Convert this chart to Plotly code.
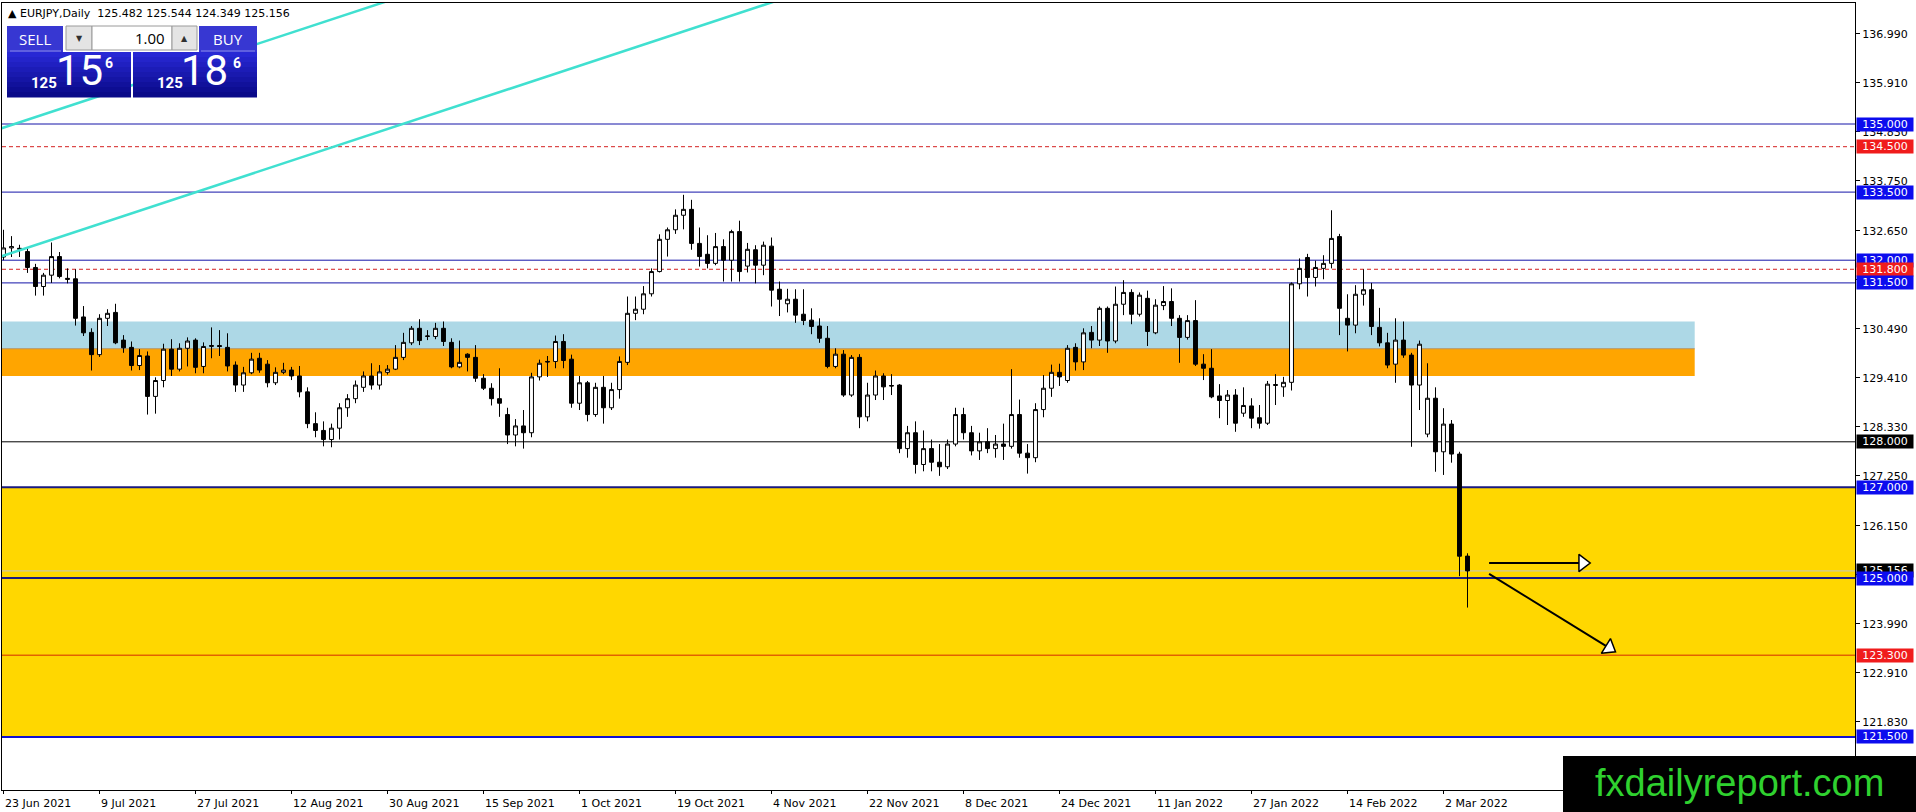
import plotly.graph_objects as go
import pandas as pd

# EURJPY daily candles, 23 Jun 2021 .. 7 Mar 2022
opens = [132.07, 132.27, 132.24, 132.19, 131.84, 131.42, 131.67, 132.08, 131.60, 131.59,
         130.75, 130.41, 129.92, 130.72, 130.85, 130.24, 130.08, 129.68, 129.89, 129.00,
         129.35, 130.04, 129.60, 130.06, 130.24, 129.66, 130.10, 130.12, 130.08, 129.69,
         129.25, 129.52, 129.84, 129.71, 129.30, 129.53, 129.58, 129.45, 129.10, 128.40,
         128.25, 128.05, 128.30, 128.75, 128.95, 129.20, 129.45, 129.25, 129.53, 129.60,
         129.86, 130.18, 130.50, 130.32, 130.32, 130.50, 130.19, 129.65, 129.93, 129.86,
         129.40, 129.18, 128.95, 128.60, 128.15, 128.35, 128.20, 129.43, 129.77, 129.77,
         130.21, 129.82, 128.85, 129.30, 128.60, 129.20, 128.75, 129.15, 129.75, 130.83,
         130.92, 131.26, 131.75, 132.46, 132.67, 132.99, 133.12, 132.37, 132.13, 131.93,
         132.30, 132.00, 132.63, 131.87, 132.23, 131.89, 132.31, 131.36, 131.04, 131.14,
         130.81, 130.68, 130.55, 130.28, 129.66, 129.93, 129.03, 129.86, 128.55, 129.03,
         129.45, 129.24, 129.25, 127.85, 128.20, 127.50, 127.85, 127.55, 127.45, 127.95,
         128.60, 128.20, 127.80, 128.00, 127.85, 127.95, 127.90, 128.60, 127.75, 127.65,
         128.71, 129.18, 129.53, 129.35, 130.08, 129.76, 130.41, 130.24, 130.94, 130.22,
         131.03, 131.29, 130.81, 131.16, 130.40, 131.00, 131.09, 130.72, 130.30, 130.67,
         129.71, 129.62, 129.01, 128.91, 129.03, 128.63, 128.79, 128.53, 128.41, 129.24,
         129.21, 129.31, 131.48, 132.06, 131.62, 131.82, 131.93, 132.52, 130.72, 130.57,
         131.25, 131.35, 130.52, 130.18, 129.71, 130.24, 129.91, 129.25, 128.17, 128.96,
         127.78, 128.39, 127.73, 125.482]
highs = [132.67, 132.53, 132.34, 132.29, 131.92, 131.72, 132.39, 132.18, 131.82, 131.80,
         130.99, 130.50, 130.81, 130.92, 131.04, 130.35, 130.21, 130.04, 129.99, 129.42,
         130.16, 130.26, 130.17, 130.30, 130.28, 130.19, 130.52, 130.46, 130.39, 129.77,
         129.65, 129.96, 129.96, 129.80, 129.64, 129.74, 129.65, 129.67, 129.20, 128.65,
         128.45, 128.40, 128.85, 129.05, 129.35, 129.55, 129.73, 129.69, 129.69, 130.13,
         130.40, 130.55, 130.70, 130.46, 130.62, 130.65, 130.28, 130.23, 129.95, 130.13,
         129.49, 129.29, 129.62, 128.75, 128.50, 128.70, 129.52, 129.81, 129.89, 130.34,
         130.37, 129.92, 129.45, 129.34, 129.30, 129.45, 129.30, 129.88, 131.20, 131.20,
         131.43, 131.82, 132.57, 132.72, 133.12, 133.44, 133.33, 132.72, 132.55, 132.60,
         132.46, 132.67, 132.87, 132.38, 132.33, 132.41, 132.50, 131.53, 131.37, 131.36,
         131.36, 130.94, 130.72, 130.55, 130.06, 130.02, 129.91, 129.93, 129.30, 129.57,
         129.51, 129.49, 129.27, 128.35, 128.45, 128.25, 128.05, 127.95, 128.05, 128.75,
         128.75, 128.35, 128.20, 128.30, 128.15, 128.40, 129.60, 128.93, 127.95, 128.85,
         129.47, 129.70, 129.72, 130.13, 130.17, 130.50, 130.55, 130.98, 130.98, 131.42,
         131.56, 131.36, 131.29, 131.33, 131.14, 131.43, 131.38, 130.79, 130.79, 131.12,
         129.93, 130.04, 129.27, 129.14, 129.16, 129.20, 128.96, 128.81, 129.34, 129.49,
         129.43, 131.51, 132.04, 132.14, 131.99, 132.11, 133.10, 132.58, 131.25, 131.45,
         131.80, 131.50, 130.95, 130.40, 130.72, 130.65, 129.96, 130.23, 129.73, 129.20,
         128.74, 128.48, 127.78, 125.544]
lows = [132.00, 132.07, 132.07, 131.72, 131.22, 131.22, 131.50, 131.60, 131.49, 130.56,
        130.33, 129.57, 129.87, 130.55, 130.15, 129.96, 129.57, 129.58, 128.60, 128.62,
        129.20, 129.45, 129.55, 129.66, 129.51, 129.51, 129.84, 129.89, 129.55, 129.10,
        129.10, 129.49, 129.52, 129.20, 129.25, 129.49, 129.36, 128.98, 128.30, 128.10,
        127.90, 127.88, 128.05, 128.55, 128.85, 129.10, 129.15, 129.15, 129.48, 129.58,
        129.80, 130.13, 130.13, 130.24, 130.26, 130.11, 129.62, 129.62, 129.55, 129.32,
        129.14, 128.80, 128.55, 127.95, 127.90, 127.85, 128.10, 129.35, 129.43, 129.62,
        129.62, 128.75, 128.70, 128.45, 128.55, 128.40, 128.70, 128.95, 129.69, 130.68,
        130.81, 131.20, 131.73, 132.08, 132.58, 132.68, 132.23, 131.86, 131.82, 131.89,
        131.53, 131.53, 131.53, 131.73, 131.49, 131.67, 130.98, 130.77, 130.85, 130.62,
        130.57, 130.37, 130.18, 129.62, 129.62, 128.99, 128.99, 128.30, 128.45, 128.92,
        128.92, 129.03, 127.75, 127.65, 127.30, 127.35, 127.35, 127.25, 127.40, 127.90,
        128.05, 127.70, 127.60, 127.75, 127.65, 127.60, 127.85, 127.65, 127.30, 127.55,
        128.54, 128.99, 129.23, 129.30, 129.57, 129.58, 130.06, 130.11, 129.96, 130.17,
        130.79, 130.59, 130.76, 130.11, 130.37, 130.90, 130.55, 129.74, 130.25, 129.67,
        129.36, 128.96, 128.52, 128.37, 128.22, 128.55, 128.30, 128.29, 128.37, 128.81,
        128.99, 129.13, 131.36, 131.20, 131.42, 131.58, 131.82, 130.35, 129.99, 130.39,
        131.00, 130.35, 130.10, 129.62, 129.30, 129.85, 127.89, 128.70, 128.10, 127.34,
        127.27, 127.54, 125.04, 124.349]
closes = [132.27, 132.30, 132.26, 131.84, 131.42, 131.67, 132.08, 131.64, 131.58, 130.72,
          130.40, 129.92, 130.72, 130.83, 130.18, 130.07, 129.68, 129.90, 129.00, 129.35,
          130.04, 129.60, 130.06, 130.22, 129.64, 130.10, 130.12, 130.10, 129.67, 129.25,
          129.52, 129.82, 129.58, 129.30, 129.53, 129.58, 129.45, 129.10, 128.40, 128.25,
          128.05, 128.30, 128.75, 128.95, 129.25, 129.45, 129.25, 129.54, 129.60, 129.86,
          130.19, 130.50, 130.23, 130.33, 130.50, 130.21, 129.65, 129.75, 129.86, 129.40,
          129.18, 128.95, 128.85, 128.15, 128.35, 128.20, 129.43, 129.73, 129.76, 130.21,
          129.79, 128.85, 129.30, 128.60, 129.20, 128.75, 129.15, 129.77, 130.83, 130.92,
          131.26, 131.75, 132.46, 132.67, 132.99, 133.12, 132.37, 132.08, 131.93, 132.30,
          132.00, 132.63, 131.75, 132.24, 131.89, 132.33, 131.34, 131.14, 131.14, 130.79,
          130.67, 130.54, 130.28, 129.66, 129.93, 129.03, 129.86, 128.55, 129.03, 129.45,
          129.21, 129.23, 127.85, 128.20, 127.50, 127.85, 127.55, 127.45, 127.95, 128.60,
          128.20, 127.80, 128.00, 127.85, 127.95, 127.90, 128.60, 127.75, 127.65, 128.71,
          129.18, 129.53, 129.43, 130.06, 129.76, 130.40, 130.24, 130.94, 130.22, 131.03,
          131.29, 130.81, 131.23, 130.43, 131.01, 131.09, 130.72, 130.30, 130.67, 129.71,
          129.62, 128.99, 128.91, 129.03, 128.41, 128.80, 128.52, 128.41, 129.27, 129.26,
          129.31, 131.48, 131.82, 131.62, 131.84, 131.93, 132.48, 130.94, 130.57, 131.25,
          131.35, 130.54, 130.18, 129.69, 130.24, 129.91, 129.25, 130.15, 128.96, 127.78,
          128.39, 127.73, 125.48, 125.156]

x_labels = ["23 Jun 2021", "9 Jul 2021", "27 Jul 2021", "12 Aug 2021", "30 Aug 2021",
            "15 Sep 2021", "1 Oct 2021", "19 Oct 2021", "4 Nov 2021", "22 Nov 2021",
            "8 Dec 2021", "24 Dec 2021", "11 Jan 2022", "27 Jan 2022", "14 Feb 2022",
            "2 Mar 2022"]
price_ticks = [136.99, 135.91, 134.83, 133.75, 132.65, 131.57, 130.49, 129.41,
               128.33, 127.25, 126.15, 125.07, 123.99, 122.91, 121.83]

# horizontal levels drawn on the chart (125.156 is the bid line)
level_prices = [135.0, 134.5, 133.5, 132.0, 131.8, 131.5, 128.0, 127.0, 125.156, 125.0, 123.3, 121.5]

zone_blue = [130.05, 130.65]
zone_orange = [129.45, 130.05]
zone_gold = [121.5, 127.0]
zone_end_bar = 211.4

trend_x = [-5, 100]
trend_lower = [131.81, 137.91]
trend_upper = [134.63, 140.73]

arrow_flat_x = [185.7, 197.4]
arrow_flat_y = [125.33, 125.33]
arrow_down_x = [185.7, 200.7]
arrow_down_y = [125.09, 123.46]

header_text = "▲ EURJPY,Daily  125.482 125.544 124.349 125.156"
lot_size = "1.00"
sell_quote = ["125", "15", "6"]
buy_quote = ["125", "18", "6"]
watermark = "fxdailyreport.com"

# page geometry (pixels)
W, H = 1916, 812
ML, MR, MT, MB = 2, 61, 3, 22
PW, PH = W - ML - MR, H - MT - MB
BAR_PX = 8.0
FIRST_PX = 3.5

BLUE_LINE = "#1414a8"
BLUE_BOX = "#0c0cee"
NAVY = "#1a1a80"
RED = "#d42020"
AXFONT = "DejaVu Sans"


def fx(px):
    return (px - ML) / PW


def fy(py):
    return 1 - (py - MT) / PH


def hline(y, color, width=1, dash="solid", x1=1.0):
    return dict(type="line", xref="paper", yref="y", x0=0, x1=x1, y0=y, y1=y,
                line=dict(color=color, width=width, dash=dash), layer="below")


def prect(x0, y0, x1, y1, fill, line=None):
    return dict(type="rect", xref="paper", yref="paper", x0=fx(x0), x1=fx(x1),
                y0=fy(y1), y1=fy(y0), fillcolor=fill, layer="above",
                line=dict(color=line or fill, width=1 if line else 0))


def ptext(px, py, text, size, color="white", bold=False, family="Roboto",
          weight=None, xanchor="center"):
    f = dict(family=family, size=size, color=color)
    if bold:
        f["weight"] = 700
    elif weight:
        f["weight"] = weight
    return dict(x=fx(px), y=fy(py), xref="paper", yref="paper", text=text,
                showarrow=False, xanchor=xanchor, yanchor="middle", font=f)


def create_plot():
    n = len(opens)
    bars = list(range(n))
    dates = pd.bdate_range("2021-06-23", periods=n)
    date_text = [f"{d.day} {d:%b %Y}" for d in dates]
    tick_bars = [date_text.index(t) for t in x_labels]

    fig = go.Figure()
    fig.add_trace(go.Candlestick(
        x=bars, open=opens, high=highs, low=lows, close=closes,
        increasing=dict(line=dict(color="black", width=1), fillcolor="white"),
        decreasing=dict(line=dict(color="black", width=1), fillcolor="black"),
        whiskerwidth=0, hoverinfo="none"))

    for ys in (trend_lower, trend_upper):
        fig.add_trace(go.Scatter(x=trend_x, y=ys, mode="lines",
                                 line=dict(color="#40E0D0", width=2.5), hoverinfo="skip"))

    for ax_, ay_ in ((arrow_flat_x, arrow_flat_y), (arrow_down_x, arrow_down_y)):
        fig.add_trace(go.Scatter(
            x=ax_, y=ay_, mode="lines+markers", line=dict(color="black", width=2),
            marker=dict(symbol="triangle-up", angleref="previous", size=[0, 15],
                        opacity=[0, 1], color="white",
                        line=dict(color="black", width=1.5)),
            hoverinfo="skip"))

    zone_x1 = (zone_end_bar * BAR_PX + FIRST_PX - ML) / PW
    shapes = [
        dict(type="rect", xref="paper", yref="y", x0=0, x1=1, y0=zone_gold[0], y1=zone_gold[1],
             fillcolor="#FFD700", line=dict(width=0), layer="below"),
        dict(type="rect", xref="paper", yref="y", x0=0, x1=zone_x1, y0=zone_blue[0],
             y1=zone_blue[1], fillcolor="#ADD8E6", line=dict(width=0), layer="below"),
        dict(type="rect", xref="paper", yref="y", x0=0, x1=zone_x1, y0=zone_orange[0],
             y1=zone_orange[1], fillcolor="#FFA500", line=dict(width=0), layer="below"),
        hline(zone_orange[1], "#b09468", x1=zone_x1),
    ]

    line_styles = [
        (BLUE_LINE, 1, "solid", BLUE_BOX),
        (RED, 1, "4px,3px", "#f01c1c"),
        (BLUE_LINE, 1, "solid", BLUE_BOX),
        (BLUE_LINE, 1, "solid", BLUE_BOX),
        (RED, 1, "4px,3px", "#f01c1c"),
        (BLUE_LINE, 1, "solid", BLUE_BOX),
        ("black", 1, "solid", "black"),
        (NAVY, 2, "solid", BLUE_BOX),
        ("#c4c4c4", 1, "solid", "black"),
        (NAVY, 2, "solid", BLUE_BOX),
        ("#d42a00", 1, "solid", "#f01c1c"),
        ("#1010d0", 2, "solid", BLUE_BOX),
    ]
    annotations = []
    for price, (col, wd, dash, box) in zip(level_prices, line_styles):
        shapes.append(hline(price, col, wd, dash))
        annotations.append(dict(
            x=1, xref="paper", xanchor="left", xshift=1, y=price, yref="y",
            yanchor="middle", text=f"{price:.3f}", showarrow=False, bgcolor=box,
            borderpad=0, width=56, align="center",
            font=dict(family=AXFONT, size=11, color="white")))

    # date labels sit to the right of their bar, MT4 style
    for b, t in zip(tick_bars, x_labels):
        annotations.append(dict(x=b, xref="x", y=0, yref="paper", xanchor="left",
                                yanchor="top", xshift=-1, yshift=-5, text=t,
                                showarrow=False,
                                font=dict(family=AXFONT, size=11, color="black")))

    annotations.append(dict(x=fx(6), y=fy(13), xref="paper", yref="paper", text=header_text,
                            showarrow=False, xanchor="left", yanchor="middle",
                            font=dict(family=AXFONT, size=11, color="black")))

    # one-click trading panel
    shapes += [
        prect(7, 26, 63, 52, "#3737d2"),
        prect(199, 26, 257, 52, "#3737d2"),
        prect(66, 26, 92, 50, "#e4e4e4", "#9a9a9a"),
        prect(92, 26, 172, 50, "white", "#9a9a9a"),
        prect(172, 26, 197, 50, "#e4e4e4", "#9a9a9a"),
    ]
    steps = 9
    for k in range(steps):
        t = k / (steps - 1)
        r = int(40 - 30 * t)
        b = int(212 - 75 * t)
        col = f"rgb({r},{r},{b})"
        y0 = 52 + 45 * k / steps
        y1 = 52 + 45 * (k + 1) / steps + 0.5
        shapes.append(prect(7, y0, 131, y1, col))
        shapes.append(prect(133, y0, 257, y1, col))
    shapes.append(dict(type="line", xref="paper", yref="paper", x0=fx(10), x1=fx(61),
                       y0=fy(51), y1=fy(51), line=dict(color="#8a8aee", width=1), layer="above"))
    shapes.append(dict(type="line", xref="paper", yref="paper", x0=fx(201), x1=fx(255),
                       y0=fy(51), y1=fy(51), line=dict(color="#8a8aee", width=1), layer="above"))

    annotations += [
        ptext(35, 39, "SELL", 15, family="Open Sans"),
        ptext(228, 39, "BUY", 15, family="Open Sans"),
        ptext(79, 38, "▼", 8, color="#303030", family=AXFONT),
        ptext(184.5, 38, "▲", 8, color="#303030", family=AXFONT),
        ptext(167, 38, lot_size, 15, color="black", family="Open Sans", xanchor="right"),
        ptext(43.5, 83, sell_quote[0], 15, bold=True),
        ptext(79, 71, sell_quote[1], 42),
        ptext(109, 63, sell_quote[2], 14, bold=True),
        ptext(169.5, 83, buy_quote[0], 15, bold=True),
        ptext(204, 71, buy_quote[1], 42),
        ptext(237, 63, buy_quote[2], 14, bold=True),
    ]

    # watermark box in the bottom right corner
    shapes.append(prect(1563, 756, 1917, 813, "black"))
    annotations.append(ptext(1739, 783, watermark, 38, color="#2fd12f",
                             family="Liberation Sans"))

    x_lo = (ML - FIRST_PX) / BAR_PX
    x_hi = (ML + PW - FIRST_PX) / BAR_PX
    y_hi = 135.0 + (124 - MT) / 45.4
    y_lo = y_hi - PH / 45.4

    fig.update_layout(
        width=W, height=H, margin=dict(l=ML, r=MR, t=MT, b=MB),
        paper_bgcolor="white", plot_bgcolor="white", showlegend=False,
        hovermode=False, boxgap=0.3, shapes=shapes, annotations=annotations,
        xaxis=dict(range=[x_lo, x_hi], rangeslider=dict(visible=False),
                   tickvals=tick_bars, showticklabels=False, ticks="outside",
                   ticklen=3, tickcolor="black", showgrid=False, zeroline=False,
                   showline=True, mirror=True, linecolor="black", linewidth=1),
        yaxis=dict(range=[y_lo, y_hi], side="right", tickvals=price_ticks,
                   ticktext=[f"{v:.3f}" for v in price_ticks], ticks="outside",
                   ticklen=4, tickcolor="black",
                   tickfont=dict(family=AXFONT, size=11, color="black"),
                   showgrid=False, zeroline=False, showline=True, mirror=True,
                   linecolor="black", linewidth=1),
    )
    # page margins would push the fixed-size figure past the window edge
    fig.write_html("out.html", config={"displayModeBar": False},
                   post_script="document.body.style.margin='0';"
                               "document.body.style.overflow='hidden';")


def main():
    create_plot()


if __name__ == '__main__':
    main()
